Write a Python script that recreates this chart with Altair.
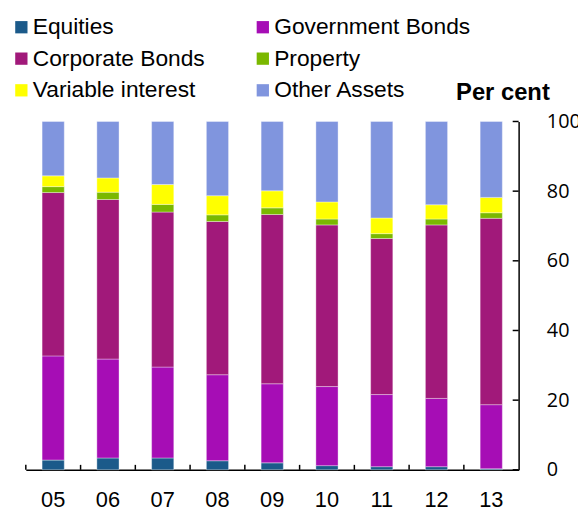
import altair as alt
import pandas as pd

years = ["05", "06", "07", "08", "09", "10", "11", "12", "13"]
categories = ["Equities", "Government Bonds", "Corporate Bonds", "Property",
              "Variable interest", "Other Assets"]
colors = ["#1B5A8A", "#A60DB5", "#A1197A", "#7AB800", "#FFFF00", "#8095DE"]

equities = [2.8, 3.4, 3.4, 2.6, 2.0, 1.2, 0.9, 0.9, 0.3]
government_bonds = [29.9, 28.4, 26.1, 24.7, 22.7, 22.7, 20.7, 19.6, 18.4]
corporate_bonds = [46.9, 45.8, 44.5, 44.0, 48.6, 46.4, 44.8, 49.8, 53.5]
property_ = [1.7, 2.1, 2.2, 1.9, 1.9, 1.7, 1.4, 1.7, 1.6]
variable_interest = [3.1, 4.1, 5.7, 5.5, 4.9, 4.9, 4.5, 4.1, 4.4]
other_assets = [15.6, 16.2, 18.1, 21.3, 19.9, 23.1, 27.7, 23.9, 21.8]

y_ticks = [0, 20, 40, 60, 80, 100]

series = [equities, government_bonds, corporate_bonds, property_,
          variable_interest, other_assets]
rows = []
for ci, (cat, vals) in enumerate(zip(categories, series)):
    for yr, v in zip(years, vals):
        rows.append({"year": yr, "category": cat, "value": v, "idx": ci})
df = pd.DataFrame(rows)

W, H = 498, 352

x_scale = alt.Scale(domain=years, paddingInner=0, paddingOuter=0)
y_scale = alt.Scale(domain=[0, 100], nice=False, zero=True)

bars = alt.Chart(df).mark_bar(
    width=alt.RelativeBandSize(0.405),
    stroke="white", strokeWidth=0.8, strokeOpacity=0.45
).encode(
    x=alt.X("year:N", scale=x_scale, sort=years,
            axis=alt.Axis(title=None, labelAngle=0, ticks=False, tickSize=0,
                          domainColor="black", domainWidth=1.5,
                          labelFont="Liberation Sans", labelFontSize=22,
                          labelColor="black", labelPadding=20)),
    y=alt.Y("value:Q", stack="zero", scale=y_scale,
            axis=alt.Axis(orient="right", values=y_ticks, ticks=False, tickSize=0,
                          grid=False, domainColor="black", domainWidth=1.5,
                          labelFont="Open Sans", labelFontSize=20,
                          labelColor="black", labelPadding=28,
                          title="Per cent", titleAngle=0, titleAlign="right",
                          titleBaseline="alphabetic", titleX=31, titleY=-22,
                          titleFont="Liberation Sans", titleFontSize=24,
                          titleFontWeight="bold", titleColor="black")),
    color=alt.Color("category:N", scale=alt.Scale(domain=categories, range=colors),
                    legend=alt.Legend(orient="none", legendX=-16, legendY=-107,
                                      direction="horizontal",
                                      columns=2, columnPadding=47, rowPadding=8,
                                      title=None, symbolType="square",
                                      symbolSize=154, symbolStrokeWidth=0,
                                      labelFont="Liberation Sans",
                                      labelFontSize=23, labelColor="black",
                                      labelOffset=0, labelLimit=400,
                                      padding=0)),
    order=alt.Order("idx:Q", sort="ascending"),
)

xtick_df = pd.DataFrame({"year": years})
xticks = alt.Chart(xtick_df).mark_rule(color="black", strokeWidth=1.5).encode(
    x=alt.X("year:N", bandPosition=0, scale=x_scale, sort=years),
    y=alt.value(H - 5),
    y2=alt.value(H),
)

ytick_df = pd.DataFrame({"v": y_ticks})
yticks = alt.Chart(ytick_df).mark_rule(color="black", strokeWidth=1.5).encode(
    y=alt.Y("v:Q", scale=y_scale),
    x=alt.value(W - 6),
    x2=alt.value(W),
)

chart = alt.layer(bars, xticks, yticks).properties(
    width=W, height=H,
    autosize=alt.AutoSizeParams(type="none"),
    padding={"left": 18, "top": 112, "right": 60, "bottom": 45},
).configure_view(stroke=None)

chart.save("out.html", embed_options={"renderer": "svg", "actions": False})
